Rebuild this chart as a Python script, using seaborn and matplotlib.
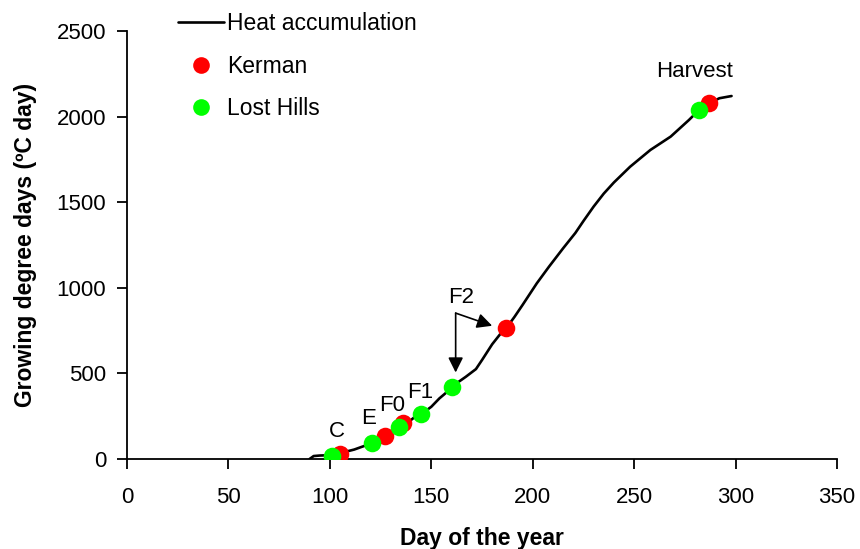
import matplotlib
matplotlib.use("Agg")
import matplotlib.pyplot as plt
from matplotlib.lines import Line2D
import seaborn as sns
import pandas as pd

# Heat accumulation curve
curve_day = [90, 92, 95, 100, 103, 106, 108, 112, 116, 121, 124, 127, 131, 134, 136,
             139, 142, 145, 150, 154, 157, 160, 164, 167, 172, 175, 180, 184, 187, 191,
             195, 202, 208, 215, 221, 225, 230, 235, 240, 248, 258, 268, 277, 282, 287,
             292, 298]
curve_gdd = [0, 17, 20, 22, 25, 30, 43, 55, 72, 92, 110, 134, 160, 185, 208,
             218, 247, 261, 305, 354, 384, 422, 455, 480, 525, 578, 670, 730, 765, 830,
             900, 1026, 1123, 1231, 1320, 1390, 1474, 1550, 1615, 1707, 1805, 1883, 1980, 2039, 2078,
             2107, 2120]

# Sampling events
kerman_day = [105, 127, 136, 187, 287]
kerman_gdd = [29, 134, 208, 765, 2078]
lost_day = [101, 121, 134, 145, 160, 282]
lost_gdd = [17, 92, 185, 261, 422, 2039]

stage_labels = ["C", "E", "F0", "F1", "F2", "Harvest"]
stage_x = [103.6, 119, 130.5, 144.3, 164.5, 280]
stage_y = [160, 238, 315, 387, 946, 2262]

sns.set_style("ticks")
plt.rcParams['font.family'] = ['Liberation Sans', 'DejaVu Sans']
plt.rcParams['text.color'] = 'black'
plt.rcParams['axes.labelcolor'] = 'black'
plt.rcParams['xtick.color'] = 'black'
plt.rcParams['ytick.color'] = 'black'

fig = plt.figure(figsize=(8.6, 5.49), dpi=100)
ax = fig.add_axes([0.1477, 0.164, 0.8256, 0.7796])

curve_df = pd.DataFrame({"day": curve_day, "gdd": curve_gdd})
sns.lineplot(data=curve_df, x="day", y="gdd", ax=ax, color="black", lw=1.9,
             estimator=None, sort=False)
sns.scatterplot(x=kerman_day, y=kerman_gdd, ax=ax, color="#FF0000", s=160,
                linewidth=0, zorder=3)
sns.scatterplot(x=lost_day, y=lost_gdd, ax=ax, color="#00FF00", s=160,
                linewidth=0, zorder=4)

for lab, tx, ty in zip(stage_labels, stage_x, stage_y):
    ax.text(tx, ty, lab, ha="center", va="center", fontsize=16, color="black")

arrow_kw = dict(arrowstyle="-|>,head_length=0.9,head_width=0.45", color="black",
                lw=1.2, shrinkA=0, shrinkB=0)
ax.annotate("", xy=(162, 505), xytext=(162, 852), arrowprops=arrow_kw)
ax.annotate("", xy=(180, 778), xytext=(162, 852), arrowprops=arrow_kw)

ax.set_xlim(0, 350)
ax.set_ylim(0, 2500)
ax.set_xticks(range(0, 351, 50))
ax.set_yticks(range(0, 2501, 500))
ax.tick_params(axis="both", labelsize=16, length=7, width=1.3, color="black",
               labelcolor="black", direction="out")
ax.tick_params(axis="x", pad=13)
ax.tick_params(axis="y", pad=8)
for sp in ["top", "right"]:
    ax.spines[sp].set_visible(False)
for sp in ["left", "bottom"]:
    ax.spines[sp].set_linewidth(1.3)
    ax.spines[sp].set_color("black")

ax.set_xlabel("Day of the year", fontsize=16.5, fontweight="bold", labelpad=14,
              color="black")
ax.set_ylabel("Growing degree days (ºC day)", fontsize=16.5, fontweight="bold",
              labelpad=14, color="black")

handles = [
    Line2D([], [], color="black", lw=1.9),
    Line2D([], [], color="#FF0000", marker="o", ls="none", markersize=12,
           markeredgewidth=0),
    Line2D([], [], color="#00FF00", marker="o", ls="none", markersize=12,
           markeredgewidth=0),
]
leg = fig.legend(handles, ["Heat accumulation", "Kerman", "Lost Hills"],
                 loc="upper left", bbox_to_anchor=(0.207, 0.978), frameon=False,
                 fontsize=16.5, borderpad=0, handlelength=2.0, handletextpad=0.15,
                 labelspacing=0.85, borderaxespad=0)
for t in leg.get_texts():
    t.set_color("black")

fig.savefig("out.png", dpi=100)
